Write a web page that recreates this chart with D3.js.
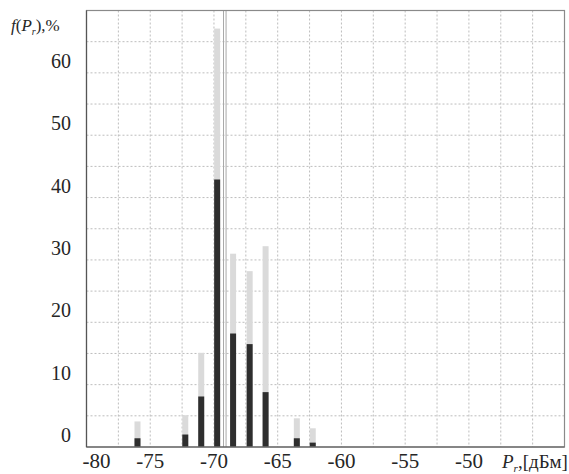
<!DOCTYPE html>
<html>
<head>
<meta charset="utf-8">
<script src="https://cdn.jsdelivr.net/npm/d3@7"></script>
<style>
  html, body { margin: 0; padding: 0; background: #fff; }
  svg { display: block; }
</style>
</head>
<body>
<svg id="chart" width="569" height="474"></svg>
<script>
// ---- data ----
const binCenters = [-76.0, -72.25, -71.0, -69.75, -68.5, -67.2, -65.95, -63.5, -62.25];
const darkValues = [1.4, 2.0, 8.1, 42.9, 18.2, 16.5, 8.8, 1.4, 0.7];
const lightValues = [4.1, 5.1, 15.1, 67.1, 31.0, 28.2, 32.2, 4.6, 3.0];
const markerLines = [-69.25, -69.05];
const xTicks = [-80, -75, -70, -65, -60, -55, -50];
const yTicks = [0, 10, 20, 30, 40, 50, 60];

(function () {
const FONT = "'Liberation Serif', 'Times New Roman', Times, serif";
const TXT = "#262626";
// ---- layout ----
const svg = d3.select("#chart");
const pL = 86.5, pR = 564.5, pT = 10.5, pB = 447;
const x = d3.scaleLinear().domain([-80, -42.5]).range([pL, pR]);
const y = d3.scaleLinear().domain([0, 70]).range([pB, pT]);

// grid
const grid = svg.append("g");
grid.selectAll("line.v")
  .data(d3.range(-77.5, -42.5, 2.5))
  .join("line")
  .attr("x1", d => x(d)).attr("x2", d => x(d))
  .attr("y1", pT).attr("y2", pB)
  .attr("stroke", "#bdbdbd").attr("stroke-width", 1)
  .attr("stroke-dasharray", "2,2");
grid.selectAll("line.h")
  .data(d3.range(5, 70, 5))
  .join("line")
  .attr("x1", pL).attr("x2", pR)
  .attr("y1", d => y(d)).attr("y2", d => y(d))
  .attr("stroke", "#bdbdbd").attr("stroke-width", 1)
  .attr("stroke-dasharray", "2,2");

// marker lines
svg.append("g").selectAll("line")
  .data(markerLines)
  .join("line")
  .attr("x1", d => x(d)).attr("x2", d => x(d))
  .attr("y1", pT).attr("y2", pB)
  .attr("stroke", "#a8a8a8").attr("stroke-width", 1);

// bars
const bw = 6;
svg.append("g").selectAll("rect")
  .data(binCenters.map((c, i) => ({c, v: lightValues[i]})))
  .join("rect")
  .attr("x", d => x(d.c) - bw / 2)
  .attr("width", bw)
  .attr("y", d => y(d.v))
  .attr("height", d => y(0) - y(d.v))
  .attr("fill", "#dadada");
svg.append("g").selectAll("rect")
  .data(binCenters.map((c, i) => ({c, v: darkValues[i]})))
  .join("rect")
  .attr("x", d => x(d.c) - bw / 2)
  .attr("width", bw)
  .attr("y", d => y(d.v))
  .attr("height", d => y(0) - y(d.v))
  .attr("fill", "#2e2e2e");

// frame
svg.append("rect")
  .attr("x", pL).attr("y", pT)
  .attr("width", pR - pL).attr("height", pB - pT)
  .attr("fill", "none").attr("stroke", "#8a8a8a").attr("stroke-width", 1.2);
svg.append("line")
  .attr("x1", pL).attr("x2", pL).attr("y1", pT).attr("y2", pB)
  .attr("stroke", "#555").attr("stroke-width", 1.2);
svg.append("line")
  .attr("x1", pL).attr("x2", pR).attr("y1", pB).attr("y2", pB)
  .attr("stroke", "#555").attr("stroke-width", 1.2);

// x tick labels
svg.append("g").selectAll("text")
  .data(xTicks)
  .join("text")
  .attr("x", (d, i) => x(d) + (i === 0 ? 10 : 0))
  .attr("y", 468)
  .attr("text-anchor", "middle")
  .attr("font-family", FONT).attr("fill", TXT)
  .attr("font-size", 21)
  .text(d => d);

// y tick labels
svg.append("g").selectAll("text")
  .data(yTicks)
  .join("text")
  .attr("x", 71)
  .attr("y", d => y(d) - 5)
  .attr("text-anchor", "end")
  .attr("font-family", FONT).attr("fill", TXT)
  .attr("font-size", 20)
  .text(d => d);

// y axis title f(P_r),%
const yt = svg.append("text").attr("x", 11).attr("y", 31)
  .attr("font-family", FONT).attr("fill", TXT).attr("font-size", 17);
yt.append("tspan").attr("font-style", "italic").text("f");
yt.append("tspan").text("(");
yt.append("tspan").attr("font-style", "italic").text("P");
yt.append("tspan").attr("font-size", 10).attr("dy", 4).attr("font-style", "italic").text("r");
yt.append("tspan").attr("dy", -4).text("),%");

// x axis title P_r,[дБм]
const xt = svg.append("text").attr("x", 502).attr("y", 468)
  .attr("font-family", FONT).attr("fill", TXT).attr("font-size", 19);
xt.append("tspan").attr("font-style", "italic").text("P");
xt.append("tspan").attr("font-size", 11).attr("dy", 4).attr("font-style", "italic").text("r");
xt.append("tspan").attr("dy", -4).text(",[дБм]");
})();
</script>
</body>
</html>
